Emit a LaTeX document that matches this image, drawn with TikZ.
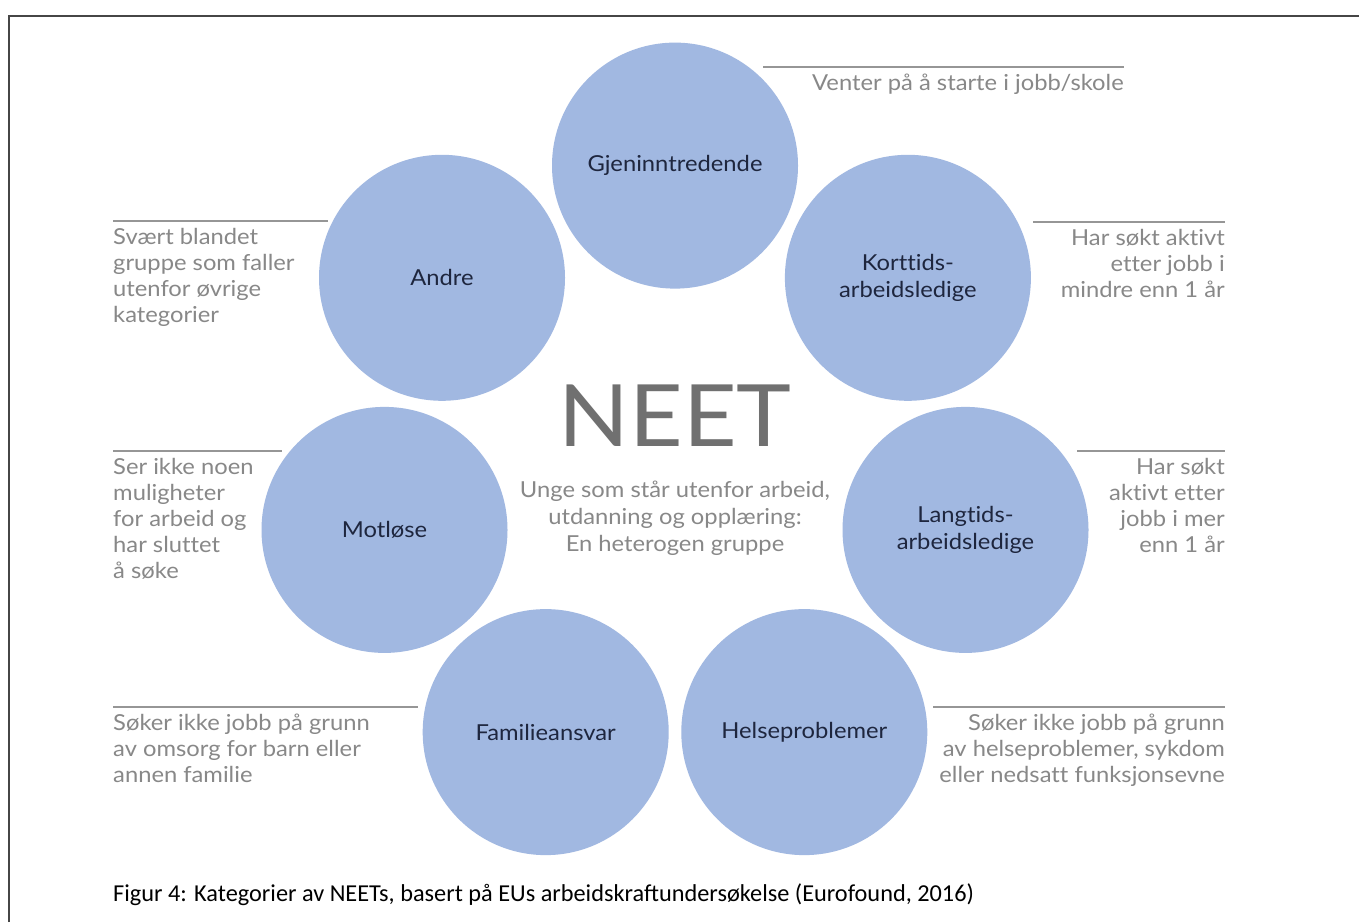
\documentclass[tikz,border=0pt]{standalone}
\usepackage{fontspec}
\setmainfont{Lato}[FakeStretch=1.08, Ligatures=NoCommon]
\newfontfamily\capfont{Carlito}
\definecolor{circfill}{RGB}{161,184,225}
\definecolor{labtext}{RGB}{30,38,62}
\definecolor{desctext}{RGB}{136,136,136}
\definecolor{rulecol}{RGB}{150,150,150}
\definecolor{neetcol}{RGB}{112,112,112}
\definecolor{framecol}{RGB}{70,70,70}
\tikzset{
  cat/.style={circle, fill=circfill, minimum size=246pt, inner sep=0pt,
    text=labtext, align=center, font=\fontsize{22}{27}\selectfont},
  descr/.style={inner sep=0pt, text=desctext, font=\fontsize{22}{26}\selectfont},
  descR/.style={descr, anchor=north east, align=right},
  descL/.style={descr, anchor=north west, align=left},
  rulel/.style={draw=rulecol, line width=1.3pt}
}
\begin{document}
\begin{tikzpicture}[x=1pt,y=-1pt]
\useasboundingbox (0,0) rectangle (1359,922);
\fill[white] (0,0) rectangle (1359,922);
\draw[framecol, line width=2pt] (9,922) -- (9,16) -- (1359,16);

% circles
\node[cat] (gje) at (675,165.6) {Gjeninntredende};
\node[cat] (kor) at (907.9,277.8) {Korttids-\\arbeidsledige};
\node[cat] (lan) at (965.5,529.9) {Langtids-\\arbeidsledige};
\node[cat] (hel) at (804.3,732.1) {Helseproblemer};
\node[cat] (fam) at (545.7,732.1) {Familieansvar};
\node[cat] (mot) at (384.5,529.9) {Motløse};
\node[cat] (and) at (442.0,277.8) {Andre};

% centre
\node[text=neetcol, font=\fontsize{86}{90}\selectfont, inner sep=0pt] (neet) at (675,416) {NEET};
\node[descr, align=center, anchor=north, font=\fontsize{22}{27}\selectfont] (sub) at (675,481)
  {Unge som står utenfor arbeid,\\utdanning og opplæring:\\En heterogen gruppe};

% descriptions right
\draw[rulel] (763,67) -- (1124,67);
\node[descR] (dgje) at (1124,74) {Venter på å starte i jobb/skole};
\draw[rulel] (1033,222) -- (1225,222);
\node[descR] (dkor) at (1225,229) {Har søkt aktivt\\etter jobb i\\mindre enn 1 år};
\draw[rulel] (1077,451) -- (1225,451);
\node[descR] (dlan) at (1225,458) {Har søkt\\aktivt etter\\jobb i mer\\enn 1 år};
\draw[rulel] (933,707) -- (1225,707);
\node[descR] (dhel) at (1225,714) {Søker ikke jobb på grunn\\av helseproblemer, sykdom\\eller nedsatt funksjonsevne};

% descriptions left
\draw[rulel] (113,221) -- (328,221);
\node[descL] (dand) at (113,228) {Svært blandet\\gruppe som faller\\utenfor øvrige\\kategorier};
\draw[rulel] (113,451) -- (282,451);
\node[descL] (dmot) at (113,458) {Ser ikke noen\\muligheter\\for arbeid og\\har sluttet\\å søke};
\draw[rulel] (113,707) -- (418,707);
\node[descL] (dfam) at (113,714) {Søker ikke jobb på grunn\\av omsorg for barn eller\\annen familie};

% caption
\node[anchor=base west, inner sep=0pt, font=\capfont\fontsize{24.3}{28}\selectfont] (cap) at (113,901)
  {Figur 4: Kategorier av NEETs, basert på EUs arbeidskraftundersøkelse (Eurofound, 2016)};
\end{tikzpicture}
\end{document}
